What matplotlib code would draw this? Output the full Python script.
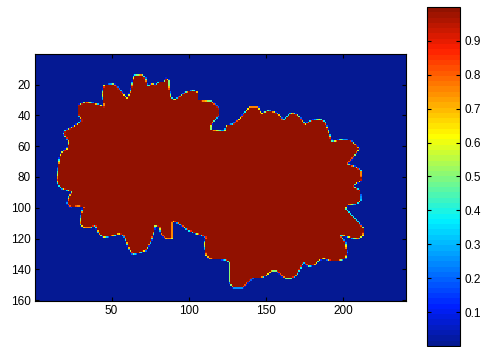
import numpy as np
import matplotlib
matplotlib.use("Agg")
import matplotlib.pyplot as plt
from matplotlib.path import Path
from matplotlib.colors import LinearSegmentedColormap

plt.rcParams['font.family'] = ['Liberation Sans', 'DejaVu Sans']

n_rows, n_cols = 160, 240

# outline of the solid region, (column, row) in grid units, clockwise
outline_col = [
    14.6, 15.6, 16.7, 17.8, 21.1, 22.1, 18.9, 20.0, 24.3, 28.6, 30.8, 28.6, 28.6, 33.0,
    39.5, 44.9, 43.8, 44.9, 51.3, 55.7, 60.0, 62.2, 63.3, 64.3, 69.8, 71.9, 73.0, 76.3,
    78.4, 80.6, 83.8, 84.9, 87.1, 87.1, 88.2, 90.3, 94.7, 97.9, 102.3, 105.5, 105.5,
    114.1, 117.4, 119.5, 119.5, 116.3, 114.1, 114.1, 122.8, 123.9, 128.2, 132.5, 136.9,
    139.0, 144.5, 146.6, 151.0, 155.2, 158.5, 160.7, 165.0, 167.2, 170.4, 174.7, 179.1,
    184.5, 187.7, 189.9, 192.1, 197.4, 203.9, 208.3, 209.8, 206.1, 201.8, 207.2, 211.1,
    211.5, 207.2, 206.1, 210.4, 210.9, 208.3, 201.8, 200.7, 205.0, 209.4, 212.6, 212.2,
    209.4, 205.0, 199.7, 197.4, 200.7, 201.8, 200.7, 196.4, 191.0, 186.7, 183.4, 181.2,
    176.9, 173.7, 171.5, 169.3, 166.1, 161.7, 156.3, 153.1, 149.9, 146.6, 141.2, 138.0,
    134.7, 128.2, 126.0, 126.0, 122.8, 113.0, 110.9, 109.8, 110.9, 107.6, 103.3, 97.9,
    93.6, 90.3, 89.3, 89.3, 84.9, 81.7, 80.6, 78.0, 77.3, 75.2, 71.9, 67.6, 63.3, 61.1,
    58.9, 57.8, 54.6, 51.3, 44.9, 41.6, 39.5, 36.2, 31.9, 29.7, 30.4, 31.9, 28.6, 23.2,
    21.1, 22.1, 24.3, 17.8, 15.6,
]
outline_row = [
    82.1, 71.7, 66.3, 64.0, 61.9, 57.5, 52.1, 50.0, 47.8, 45.6, 43.5, 40.2, 33.7, 31.5,
    32.6, 34.7, 26.1, 20.7, 20.0, 23.9, 29.3, 23.9, 18.5, 14.2, 13.7, 16.3, 21.7, 19.6,
    20.7, 18.5, 18.5, 16.3, 17.4, 21.7, 28.2, 30.4, 27.2, 25.0, 23.9, 25.0, 30.4,
    31.1, 33.7, 35.9, 40.2, 43.5, 46.7, 49.5, 50.4, 46.7, 46.1, 42.4, 37.0,
    34.7, 34.7, 39.1, 37.0, 38.0, 40.2, 43.5, 39.1, 38.7, 40.2, 46.1, 43.5,
    42.8, 44.5, 50.0, 57.5, 56.0, 56.5, 59.7, 61.9, 67.3, 71.7, 73.4, 76.0,
    82.3, 84.5, 86.6, 88.8, 95.3, 97.5, 98.5, 100.8, 105.1, 109.4, 113.8, 118.1,
    120.3, 119.8, 118.1, 117.7, 122.4, 129.0, 133.3, 134.4, 134.4, 132.9, 134.4, 137.2,
    138.1, 135.5, 139.8, 144.1, 145.9, 145.9, 140.9, 140.9, 144.1, 145.4, 145.4, 148.5,
    151.7, 151.7, 148.5, 135.5, 133.7, 133.3, 131.1, 123.5, 119.2, 117.7, 116.6, 113.8,
    110.5, 109.0, 109.4, 120.3, 120.3, 117.0, 112.7, 111.6, 115.9, 122.4, 127.8, 129.4, 130.1, 126.8,
    120.3, 118.1, 117.0, 118.1, 119.2, 117.0, 111.6, 113.3, 113.3, 110.5, 104.0, 99.7, 99.2, 99.7,
    97.5, 93.1, 89.9, 87.7, 85.5,
]

x_ticks = [50, 100, 150, 200]
y_ticks = [20, 40, 60, 80, 100, 120, 140, 160]
cbar_ticks = [0.1, 0.2, 0.3, 0.4, 0.5, 0.6, 0.7, 0.8, 0.9]

# jet-like map, 64 steps
jet_stops = [0.0, 0.11, 0.37, 0.62, 0.88, 1.0]
jet_colors = [(0.02, 0.10, 0.58), (0.0, 0.12, 1.0), (0.0, 0.95, 1.0),
              (1.0, 1.0, 0.0), (1.0, 0.12, 0.0), (0.57, 0.07, 0.0)]
cmap = LinearSegmentedColormap.from_list('jet64', list(zip(jet_stops, jet_colors)), N=64)

# phase field: fraction of each cell inside the outline (4x4 subsamples)
shape = Path(np.column_stack([outline_col, outline_row]))
sub = 4
offs = (np.arange(sub) + 0.5) / sub - 0.5
cc, rr = np.meshgrid(np.arange(1, n_cols + 1), np.arange(1, n_rows + 1))
field = np.zeros((n_rows, n_cols))
for dy in offs:
    for dx in offs:
        pts = np.column_stack([(cc + dx).ravel(), (rr + dy).ravel()])
        field += shape.contains_points(pts).reshape(n_rows, n_cols)
field /= sub * sub

fig = plt.figure(figsize=(4.85, 3.47), dpi=100)
ax = fig.add_axes([0.0722, 0.1326, 0.7650, 0.7104])
im = ax.imshow(field, cmap=cmap, vmin=0, vmax=1, aspect='auto',
               interpolation='nearest',
               extent=[0.5, n_cols + 0.5, n_rows + 0.5, 0.5])
ax.set_xticks(x_ticks)
ax.set_yticks(y_ticks)
ax.tick_params(direction='in', top=True, right=True, length=3, width=0.8,
               labelsize=8.5, pad=3)
for s in ax.spines.values():
    s.set_linewidth(0.8)

cax = fig.add_axes([0.8804, 0.003, 0.068, 0.977])
cb = fig.colorbar(im, cax=cax, ticks=cbar_ticks)
cb.ax.tick_params(direction='in', left=True, right=True, length=3, width=0.8,
                  labelsize=8.5, pad=3)
cb.outline.set_linewidth(0.8)

fig.savefig('out.png', dpi=100)
